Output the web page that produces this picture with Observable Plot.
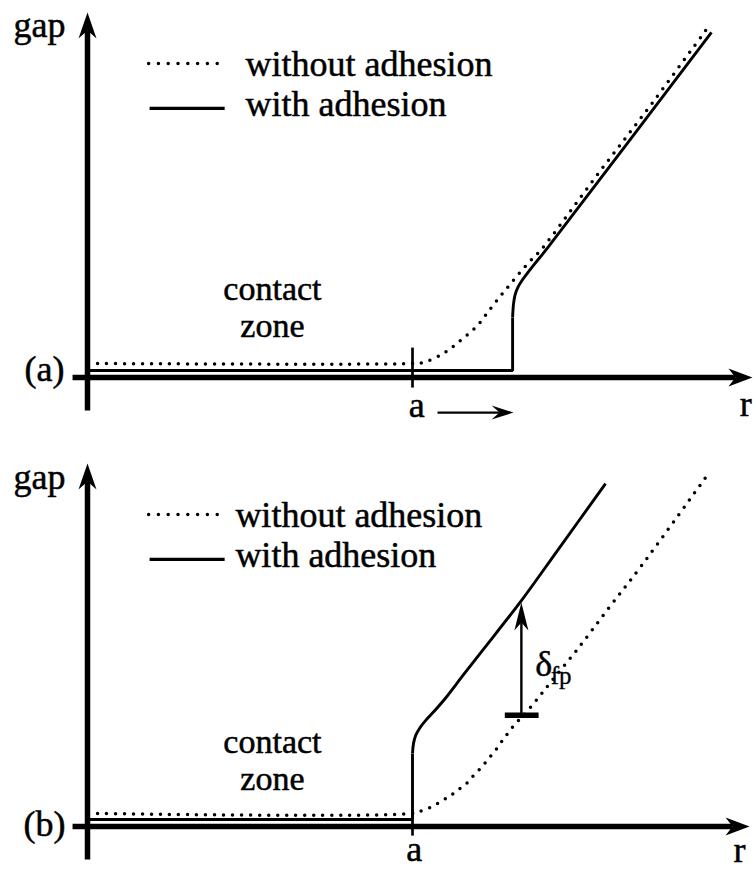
<!DOCTYPE html>
<html><head><meta charset="utf-8">
<script src="https://cdn.jsdelivr.net/npm/d3@7"></script>
<script src="https://cdn.jsdelivr.net/npm/@observablehq/plot@0.6"></script>
<style>
html,body{margin:0;padding:0;background:#fff;}
#chart svg{display:block;}
</style>
</head><body><div id="chart"></div>
<script>
// ---------- data (r in units of the contact radius a, gap in the same units) ----------
const legendLabels = ["without adhesion", "with adhesion"];
const panelLabels = ["(a)", "(b)"];
const axisNames = ["gap", "r"];
const radiusLabel = "a";
const contactLabel = "contact\nzone";
const deltaLabel = ["δ", "fp"];

// axis extents [min, tip]
const rAxisA = [-0.046, 2.046], gapAxisA = [-0.1015, 1.123];
const rAxisB = [-0.046, 2.037], gapAxisB = [-0.1015, 1.117];

// panel (a): gap profiles [r, gap]
const withoutA = [[0.031,0.043],[1.000,0.043],[1.034,0.046],[1.095,0.074],[1.148,0.114],[1.200,0.160],[1.240,0.212],[1.280,0.262],[1.323,0.314],[1.369,0.366],[1.394,0.391],[1.572,0.628],[1.738,0.845],[1.911,1.080]];
const withA = [[0,0.0215],[1.308,0.0215],[1.308,0.185],[1.311,0.228],[1.316,0.256],[1.325,0.279],[1.338,0.300],[1.356,0.324],[1.374,0.347],[1.394,0.372],[1.415,0.398],[1.920,1.062]];
const growthArrowA = [1.077, 1.311];   // r span of the "a →" arrow

// panel (b)
const withoutB = [[0.031,0.040],[0.994,0.040],[1.031,0.049],[1.062,0.062],[1.092,0.080],[1.117,0.095],[1.142,0.114],[1.166,0.132],[1.188,0.157],[1.212,0.182],[1.234,0.209],[1.255,0.234],[1.277,0.265],[1.295,0.289],[1.317,0.317],[1.338,0.338],[1.378,0.385],[1.422,0.440],[1.505,0.542],[1.603,0.671],[1.705,0.803],[1.902,1.074]];
const withB = [[0,0.0215],[1.0,0.0215],[1.0,0.225],[1.003,0.255],[1.010,0.281],[1.023,0.304],[1.042,0.328],[1.068,0.356],[1.100,0.393],[1.157,0.467],[1.218,0.545],[1.335,0.695],[1.446,0.849],[1.594,1.055]];
const deltaFp = {r: 1.335, from: 0.342, to: 0.689};

// ---------- layout (positions in data units) ----------
const K = 325; // px per data unit on both axes
const FONT = "Liberation Serif";
const layoutA = {
  height: 449, label: panelLabels[0], rAxis: rAxisA, gapAxis: gapAxisA,
  legendDot: [[0.188,0.966],[0.403,0.966]], legendSolid: [[0.191,0.828],[0.422,0.828]],
  legendText: [0.486, 0.929, 0.806],
  gapPos: [-0.148, 1.047], rPos: [2.025, -0.117], aPos: [1.013, -0.123],
  panelPos: [-0.132, -0.012], contactPos: [0.569, 0.126],
  tick: [1.0, -0.031, 0.092]
};
const layoutB = {
  height: 420, label: panelLabels[1], rAxis: rAxisB, gapAxis: gapAxisB,
  legendDot: [[0.188,0.960],[0.400,0.960]], legendSolid: [[0.191,0.822],[0.422,0.822]],
  legendText: [0.455, 0.923, 0.800],
  gapPos: [-0.148, 1.037], rPos: [2.006, -0.108], aPos: [1.005, -0.105],
  panelPos: [-0.132, -0.028], contactPos: [0.569, 0.111],
  tick: [1.0, -0.028, 0.05]
};

function arrowHead(tip, dir, len, half, notch) {
  const [r, g] = tip, [ux, uy] = dir, [vx, vy] = [-uy, ux];
  const pt = (a, b) => [r + (a * ux + b * vx) / K, g + (a * uy + b * vy) / K];
  return [pt(0, 0), pt(-len, half), pt(-notch, 0), pt(-len, -half), pt(0, 0)];
}

function txt(t, r, g, opts = {}) {
  return Plot.text([{t, r, g}], {x: "r", y: "g", text: "t", fontFamily: FONT, fontSize: 36,
    lineAnchor: "bottom", textAnchor: "middle", fill: "black", stroke: "black", strokeWidth: 0.5, ...opts});
}

function panel(L, without, withAdh, extra) {
  const [r0, rTip] = L.rAxis, [g0, gTip] = L.gapAxis;
  const dotted = {strokeDasharray: "0 9", strokeLinecap: "round", strokeWidth: 3.5, stroke: "black"};
  const bend = withAdh.findIndex(d => d[1] > 0.1);
  const marks = [
    // axes
    Plot.line([[0, g0], [0, gTip - 18 / K]], {stroke: "black", strokeWidth: 5.5, strokeLinecap: "butt"}),
    Plot.line(arrowHead([0, gTip], [0, 1], 26, 9, 18), {fill: "black", stroke: "none"}),
    Plot.line([[r0, 0], [rTip - 17 / K, 0]], {stroke: "black", strokeWidth: 5.5, strokeLinecap: "butt"}),
    Plot.line(arrowHead([rTip, 0], [1, 0], 24, 9, 17), {fill: "black", stroke: "none"}),
    // tick at a
    Plot.line([[L.tick[0], L.tick[1]], [L.tick[0], L.tick[2]]], {stroke: "black", strokeWidth: 2.7, strokeLinecap: "butt"}),
    // curves
    Plot.line(without, {curve: "catmull-rom", ...dotted}),
    Plot.line(withAdh.slice(0, bend + 1), {stroke: "black", strokeWidth: 2.9, strokeLinejoin: "miter", strokeLinecap: "butt"}),
    Plot.line(withAdh.slice(bend), {curve: "catmull-rom", stroke: "black", strokeWidth: 2.9, strokeLinecap: "butt"}),
    // legend
    Plot.line(L.legendDot, {...dotted, strokeDasharray: "0 9.8"}),
    Plot.line(L.legendSolid, {stroke: "black", strokeWidth: 3.2, strokeLinecap: "butt"}),
    txt(legendLabels[0], L.legendText[0], L.legendText[1], {textAnchor: "start"}),
    txt(legendLabels[1], L.legendText[0], L.legendText[2], {textAnchor: "start"}),
    // labels
    txt(axisNames[0], L.gapPos[0], L.gapPos[1]),
    txt(axisNames[1], L.rPos[0], L.rPos[1]),
    txt(radiusLabel, L.aPos[0], L.aPos[1]),
    txt(L.label, L.panelPos[0], L.panelPos[1]),
    txt(contactLabel, L.contactPos[0], L.contactPos[1], {fontSize: 34, lineHeight: 37 / 34}),
    ...extra
  ];
  return Plot.plot({
    width: 753, height: L.height,
    margin: 0,
    x: {domain: [0, 1], range: [87, 412], axis: null},
    y: {domain: [0, 1], range: [377, 52], axis: null},
    style: {background: "white"},
    marks
  });
}

// panel (a) extra: growth arrow under "a"
const gArrowY = -0.108;
const extraA = [
  Plot.line([[growthArrowA[0], gArrowY], [growthArrowA[1] - 14 / K, gArrowY]], {stroke: "black", strokeWidth: 2.2, strokeLinecap: "butt"}),
  Plot.line(arrowHead([growthArrowA[1], gArrowY], [1, 0], 22, 7, 14), {fill: "black", stroke: "none"})
];
// panel (b) extra: delta_fp arrow
const extraB = [
  Plot.line([[deltaFp.r - 0.051, deltaFp.from], [deltaFp.r + 0.053, deltaFp.from]], {stroke: "black", strokeWidth: 5.5, strokeLinecap: "butt"}),
  Plot.line([[deltaFp.r, deltaFp.from], [deltaFp.r, deltaFp.to - 20 / K]], {stroke: "black", strokeWidth: 2.4, strokeLinecap: "butt"}),
  Plot.line(arrowHead([deltaFp.r, deltaFp.to], [0, 1], 28, 7, 20), {fill: "black", stroke: "none"}),
  txt(deltaLabel[0], 1.378, 0.462, {textAnchor: "start"}),
  txt(deltaLabel[1], 1.425, 0.440, {textAnchor: "start", fontSize: 25, strokeWidth: 0.3})
];

const root = document.getElementById("chart");
root.append(panel(layoutA, withoutA, withA, extraA));
root.append(panel(layoutB, withoutB, withB, extraB));
</script></body></html>
